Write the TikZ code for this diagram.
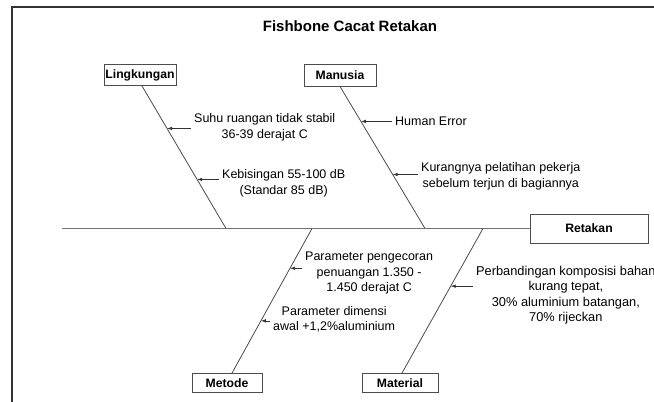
\documentclass[tikz,border=0pt]{standalone}
\usepackage{fontspec}
\setmainfont{Liberation Sans}
\usetikzlibrary{calc,arrows.meta}
\begin{document}
\begin{tikzpicture}[x=1pt,y=-1pt,
  frame/.style={draw=black!80, line width=1.1pt},
  catbox/.style={draw=black!70, line width=0.9pt, inner sep=0pt, fill=white,
    font=\fontsize{12.2}{13}\selectfont\bfseries},
  spine/.style={draw=black!55, line width=1.2pt},
  bone/.style={draw=black!70, line width=0.8pt},
  cause/.style={font=\fontsize{12.5}{15.5}\selectfont, align=center, inner sep=3pt, anchor=west},
  arr/.style={draw=black!80, line width=0.7pt, -{Latex[length=5pt,width=3.5pt]}}]
\useasboundingbox (0,0) rectangle (654,402);
\fill[white] (0,0) rectangle (654,402);
\draw[frame] (12,402) -- (12,7) -- (654,7);

\node[font=\fontsize{15}{17}\selectfont\bfseries] (title) at (350,26) {Fishbone Cacat Retakan};

\node[catbox, minimum width=72pt, minimum height=21pt] (ling) at (140,75) {Lingkungan};
\node[catbox, minimum width=72pt, minimum height=22pt] (man) at (340,75) {Manusia};
\node[catbox, minimum width=70pt, minimum height=19pt] (met) at (227,383) {Metode};
\node[catbox, minimum width=76pt, minimum height=19pt] (mat) at (400,383) {Material};
\node[catbox, minimum width=118pt, minimum height=29pt] (ret) at (589,228.5) {Retakan};

\coordinate (tail) at (62,228.5);
\coordinate (j1) at (226,228.5);
\coordinate (j2) at (425,228.5);
\coordinate (j3) at (312,228.5);
\coordinate (j4) at (483,228.5);

\draw[spine] (tail) -- (ret.west);
\draw[bone] ([xshift=2pt]ling.south) -- (j1);
\draw[bone] (man.south) -- (j2);
\draw[bone] (j3) -- ([xshift=5pt]met.north);
\draw[bone] (j4) -- ([xshift=2pt]mat.north);

\coordinate (p1) at ($([xshift=2pt]ling.south)!0.298!(j1)$);
\coordinate (p2) at ($([xshift=2pt]ling.south)!0.656!(j1)$);
\coordinate (p3) at ($(man.south)!0.246!(j2)$);
\coordinate (p4) at ($(man.south)!0.620!(j2)$);
\coordinate (p5) at ($(j3)!0.275!([xshift=5pt]met.north)$);
\coordinate (p6) at ($(j3)!0.639!([xshift=5pt]met.north)$);
\coordinate (p7) at ($(j4)!0.399!([xshift=2pt]mat.north)$);

\node[cause] (suhu) at (191,127.5) {Suhu ruangan tidak stabil\\36-39 derajat C};
\node[cause] (kebis) at (219,183.5) {Kebisingan 55-100 dB\\(Standar 85 dB)};
\node[cause] (human) at (392,121) {Human Error};
\node[cause] (kurang) at (418,176.5) {Kurangnya pelatihan pekerja\\sebelum terjun di bagiannya};
\node[cause] (tuang) at (302,273) {Parameter pengecoran\\penuangan 1.350 -\\1.450 derajat C};
\node[cause] (dimensi) at (270,319.5) {Parameter dimensi\\awal +1,2\%aluminium};
\node[cause, font=\fontsize{12.8}{15.5}\selectfont] (banding) at (473,295) {Perbandingan komposisi bahan\\kurang tepat,\\30\% aluminium batangan,\\70\% rijeckan};

\draw[arr] (p1 -| suhu.west) -- (p1);
\draw[arr] (p2 -| kebis.west) -- (p2);
\draw[arr] (p3 -| human.west) -- (p3);
\draw[arr] (p4 -| kurang.west) -- (p4);
\draw[arr] (p5 -| tuang.west) -- (p5);
\draw[arr] (p6 -| dimensi.west) -- (p6);
\draw[arr] (p7 -| banding.west) -- (p7);
\end{tikzpicture}
\end{document}
